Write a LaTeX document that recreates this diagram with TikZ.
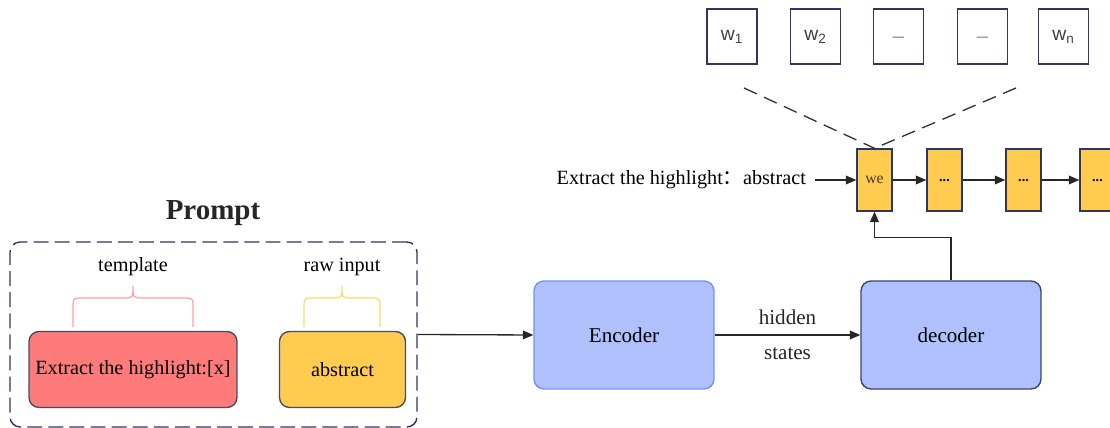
\documentclass[tikz,border=0pt]{standalone}
\usepackage{fontspec}
\setmainfont{Liberation Serif}
\newfontfamily\wfont{Liberation Sans}
\newfontfamily\cjk{Noto Sans CJK SC}
\usepackage{xcolor}
\usetikzlibrary{arrows.meta,calc,positioning,shapes}

\definecolor{navy}{HTML}{2F3661}
\definecolor{redfill}{HTML}{FF7A7A}
\definecolor{redline}{HTML}{FF9E9E}
\definecolor{gold}{HTML}{FFCC4F}
\definecolor{goldline}{HTML}{FFD966}
\definecolor{bluefill}{HTML}{AFC0FD}
\definecolor{blueline}{HTML}{7193F8}
\definecolor{darkline}{HTML}{3C4470}
\definecolor{greyline}{HTML}{4B4B5E}

\begin{document}
\begin{tikzpicture}[
		x=0.02cm, y=-0.02cm,
		wordbox/.style={rectangle, draw=navy, fill=white, line width=0.8pt, minimum width=1cm, minimum height=1.1cm, inner sep=0pt, font=\wfont\fontsize{11}{13}\selectfont, text=black!75},
		tokbox/.style={rectangle, draw=navy, fill=gold, line width=0.8pt, minimum width=0.7cm, minimum height=1.24cm, inner sep=0pt},
		codebox/.style={rectangle, rounded corners=0.2cm, fill=bluefill, line width=0.8pt, minimum width=3.6cm, minimum height=2.16cm, font=\fontsize{12}{14}\selectfont},
		partbox/.style={rectangle, rounded corners=0.2cm, draw=greyline, line width=0.8pt, minimum height=1.52cm, inner sep=1pt, font=\fontsize{11.5}{14}\selectfont},
		label/.style={font=\fontsize{11.5}{14}\selectfont, inner sep=0pt},
		every edge/.style={draw, -{Triangle[length=6pt,width=5pt]}, line width=0.75pt, black!85},
		>={Triangle[length=6pt,width=5pt]}
		]
	
		\useasboundingbox (0,0) rectangle (1110,428);
	
		% --- output words ---
		\node[wordbox] (W1) at (732, 36.5) {w\textsubscript{1}};
		\node[wordbox] (W2) at (815.5, 36.5) {w\textsubscript{2}};
		\node[wordbox, text=black!45] (W3) at (898.5, 36.5) {\_};
		\node[wordbox, text=black!45] (W4) at (982.5, 36.5) {\_};
		\node[wordbox] (Wn) at (1063.5, 36.5) {w\textsubscript{n}};
	
		% --- decoder steps ---
		\node[tokbox, font=\fontsize{9}{10}\selectfont, text=black!70!olive] (we) at (874.5, 180) {we};
		\node[tokbox, font=\fontsize{8}{9}\bfseries] (T2) at (944.5, 180) {\raisebox{-0.4ex}{...}};
		\node[tokbox, font=\fontsize{8}{9}\bfseries] (T3) at (1023.5, 180) {\raisebox{-0.4ex}{...}};
		\node[tokbox, font=\fontsize{8}{9}\bfseries] (T4) at (1097.5, 180) {\raisebox{-0.4ex}{...}};
		\node[label, anchor=east, inner xsep=5pt] (query) at (815, 180) {Extract the highlight{\cjk ：}abstract};
	
		\coordinate (L1) at (744, 88);
		\coordinate (R1) at (1016, 88);
		\draw[dash pattern=on 8pt off 4.5pt, line width=0.75pt, black!80] (L1) -- (we.north);
		\draw[dash pattern=on 8pt off 4.5pt, line width=0.75pt, black!80] (R1) -- (we.north);
	
		\draw (query.east) edge (we.west);
		\draw (we) edge (T2);
		\draw (T2) edge (T3);
		\draw (T3) edge (T4);
	
		% --- encoder / decoder ---
		\node[codebox, draw=blueline] (enc) at (624, 335) {Encoder};
		\node[codebox, draw=darkline] (dec) at (951, 335) {decoder};
	
		\draw (enc) edge node[label, font=\fontsize{12}{14}\selectfont, above=0.2cm] {hidden} node[label, font=\fontsize{12}{14}\selectfont, below=0.24cm] {states} (dec);
		\draw[->, line width=0.75pt, black!85] (dec.north) -- ++(0,-43) -| (we.south);
	
		% --- Prompt ---
		\node[font=\fontsize{16.5}{18}\bfseries, text=black!85] (title) at (213, 213) {Prompt};
		\node[rectangle, rounded corners=0.2cm, draw=navy, line width=0.8pt, dash pattern=on 8.5pt off 3.5pt, minimum width=8.14cm, minimum height=3.7cm] (prompt) at (213.5, 334.5) {};
	
		\node[partbox, fill=redfill, minimum width=4.16cm] (tmpl) at (133, 369.5) {Extract the highlight:[x]};
		\node[partbox, fill=gold, minimum width=2.52cm] (raw) at (342.5, 369.5) {abstract};
		\node[label] (tmpltext) at (133, 267) {template};
		\node[label] (rawtext) at (342, 267) {raw input};
	
		\draw[redline, line width=0.7pt] (73,327) -- (73,308) .. controls (73,298) .. (83,298) -- (123,298)
			.. controls (133,298) .. (133,286) .. controls (133,298) .. (143,298) -- (183,298)
			.. controls (193,298) .. (193,308) -- (193,327);
		\draw[goldline, line width=0.7pt] (304,327) -- (304,308) .. controls (304,298) .. (314,298) -- (332,298)
			.. controls (342,298) .. (342,286) .. controls (342,298) .. (352,298) -- (370,298)
			.. controls (380,298) .. (380,308) -- (380,327);
	
		\draw (prompt.east) edge (enc.west);
	
	\end{tikzpicture}
\end{document}
